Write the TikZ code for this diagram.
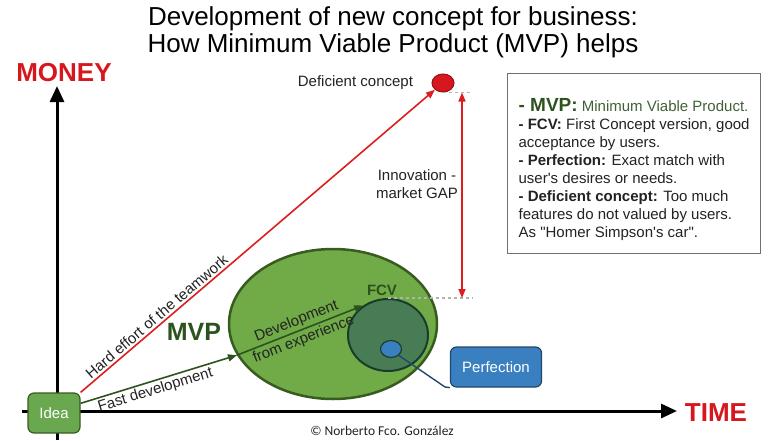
\documentclass[tikz,border=0pt]{standalone}
\usepackage{fontspec}
\setmainfont{Liberation Sans}
\newfontfamily\signfont{Carlito}
\usetikzlibrary{arrows.meta, positioning, shapes.geometric, calc}

\definecolor{AxisRed}{RGB}{214, 24, 30}
\definecolor{LineRed}{RGB}{222, 30, 30}
\definecolor{IdeaGreen}{RGB}{106, 168, 79}
\definecolor{MvpGreen}{RGB}{112, 171, 72}
\definecolor{MvpBorder}{RGB}{56, 92, 32}
\definecolor{FcvGreen}{RGB}{72, 124, 84}
\definecolor{FcvBorder}{RGB}{26, 60, 44}
\definecolor{TextGreen}{RGB}{44, 82, 30}
\definecolor{PerfBlue}{RGB}{58, 128, 192}
\definecolor{PerfBorder}{RGB}{32, 72, 108}
\definecolor{NoteGreen}{RGB}{66, 96, 56}
\definecolor{FrameGray}{RGB}{112, 112, 112}
\definecolor{NoteText}{RGB}{34, 34, 34}

\begin{document}
\begin{tikzpicture}[
    x=1pt, y=-1pt,
    every node/.style={font=\fontsize{15}{18}\selectfont, align=center, text=NoteText},
    heading/.style={font=\fontsize{26}{27}\selectfont, text=black},
    axis/.style={line width=3pt, -{Triangle[length=16pt, width=14pt]}},
    axislabel/.style={text=AxisRed, font=\fontsize{26}{26}\selectfont\bfseries},
    idea/.style={draw=MvpBorder, fill=IdeaGreen, rounded corners=6pt, line width=1.2pt,
                 minimum width=52pt, minimum height=40pt, text=white},
    deficient/.style={ellipse, draw=AxisRed!70!black, fill=AxisRed, line width=1pt,
                      minimum width=22pt, minimum height=18pt, inner sep=0pt},
    mvp/.style={ellipse, draw=MvpBorder, fill=MvpGreen, line width=2.5pt,
                minimum width=208pt, minimum height=150pt},
    fcv/.style={ellipse, draw=FcvBorder, fill=FcvGreen, line width=2pt,
                minimum width=80pt, minimum height=72pt},
    perfdot/.style={ellipse, draw=FcvBorder, fill=PerfBlue, line width=1.2pt,
                    minimum width=21pt, minimum height=17pt, inner sep=0pt},
    perfbox/.style={draw=PerfBorder, fill=PerfBlue, rounded corners=6pt, line width=1.2pt,
                    minimum width=91pt, minimum height=40pt, text=white},
    hard/.style={LineRed, line width=1.6pt, -{Triangle[length=9pt, width=7pt]}},
    devline/.style={TextGreen, line width=1.6pt, -{Triangle[length=9pt, width=7pt]}},
    gap/.style={LineRed, line width=1.6pt, {Triangle[length=9pt, width=7pt]}-{Triangle[length=9pt, width=7pt]}},
    guide/.style={gray!60, line width=1.2pt, dashed},
    linelabel/.style={sloped, text=NoteText, inner sep=2pt},
    greenlabel/.style={text=TextGreen, font=\fontsize{15}{15}\selectfont\bfseries},
    notebox/.style={draw=FrameGray, line width=1.2pt, align=left, text=NoteText,
                    minimum width=253pt, minimum height=180pt, anchor=north west}
]
\useasboundingbox (0,0) rectangle (782,440);

% title
\node[heading] (title) at (393,32) {Development of new concept for business:\\How Minimum Viable Product (MVP) helps};

% axes
\coordinate (ybot) at (57,440);
\coordinate (ytop) at (57,86);
\coordinate (xleft) at (22,411);
\coordinate (xright) at (677,411);
\draw[axis] (ybot) -- (ytop);
\draw[axis] (xleft) -- (xright);
\node[axislabel] (money) at (64,73) {MONEY};
\node[axislabel] (time) at (716,413) {TIME};

% ellipses
\node[mvp] (mvp) at (333,324) {};
\node[fcv] (fcv) at (388,335) {};
\node[perfdot] (perfdot) at (391,349) {};
\node[greenlabel] (fcvlabel) at (382,290) {FCV};
\node[greenlabel, font=\fontsize{25}{25}\selectfont\bfseries] (mvplabel) at (194,332) {MVP};

% idea and deficient concept
\node[idea] (idea) at (54,413) {Idea};
\node[deficient] (defic) at (443,83) {};
\node[left=15pt of defic] (deficlabel) {Deficient concept};

\draw[hard] (idea.north east) -- node[linelabel, pos=0.23, above] {Hard effort of the teamwork} (defic.south west);
\draw[devline] (idea.20) -- node[linelabel, pos=0.46, below] {Fast development} (mvp.198);
\draw[devline] (mvp.198) -- node[linelabel, above] {Development}
                            node[linelabel, below] {from experience} (fcv.130);

% innovation gap
\coordinate (gapx) at (462,0);
\coordinate (guidex) at (473,0);
\draw[guide] (defic.south) -- (defic.south -| guidex);
\draw[guide] (fcv.north) -- (fcv.north -| guidex);
\draw[gap] (defic.south -| gapx) -- (fcv.north -| gapx);
\node (gaplabel) at (417,184) {Innovation -\\market GAP};

% perfection
\node[perfbox] (perfbox) at (496,367) {Perfection};
\coordinate (perfbend) at (445,387);
\draw[PerfBorder, line width=1.4pt] (perfdot.south east) -- (perfbend) -- (perfbox.south west);

% notes
\node[notebox] (notes) at (507,73) {%
\rule{0pt}{24pt}{\fontsize{19}{22}\selectfont\bfseries\textcolor{TextGreen}{- MVP:}} \textcolor{NoteGreen}{Minimum Viable Product.}\\
\textbf{- FCV:} First Concept version, good\\
acceptance by users.\\
\textbf{- Perfection:} Exact match with\\
user\textquotesingle s desires or needs.\\
\textbf{- Deficient concept:} Too much\\
features do not valued by users.\\
As \textquotedbl Homer Simpson\textquotesingle s car\textquotedbl.};

\node[font=\signfont\fontsize{13.5}{14}\selectfont] (sign) at (382,431) {© Norberto Fco. González};
\end{tikzpicture}
\end{document}
